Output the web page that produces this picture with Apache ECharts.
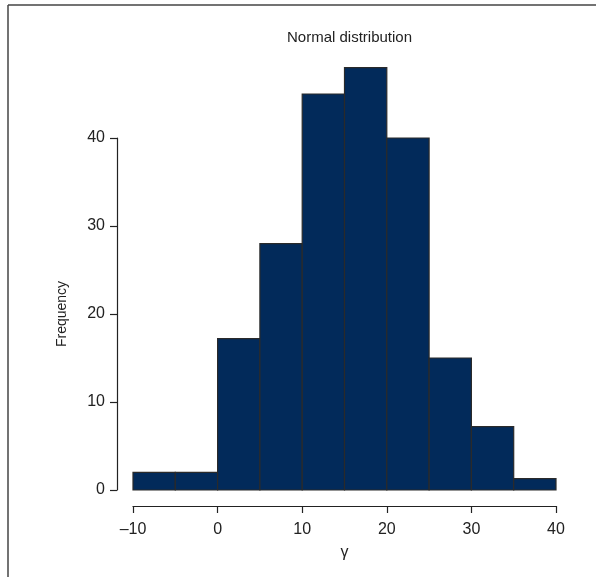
<!DOCTYPE html>
<html>
<head>
<meta charset="utf-8">
<script src="https://cdn.jsdelivr.net/npm/echarts@6/dist/echarts.min.js"></script>
<style>
html,body{margin:0;padding:0;background:#fff;}
#chart{width:596px;height:577px;}
</style>
</head>
<body>
<div id="chart"></div>
<script>
// Data
var binStart = [-10, -5, 0, 5, 10, 15, 20, 25, 30, 35];
var binEnd   = [-5, 0, 5, 10, 15, 20, 25, 30, 35, 40];
var frequency = [2, 2, 17.2, 28, 45, 48, 40, 15, 7.2, 1.3];
var xTicks = [-10, 0, 10, 20, 30, 40];
var yTicks = [0, 10, 20, 30, 40];

var FONT = "'Liberation Sans Narrow', 'Arial Narrow', 'Liberation Sans', sans-serif";

var chart = echarts.init(document.getElementById('chart'), null, {renderer: 'canvas'});
var data = binStart.map(function (s, i) { return [s, binEnd[i], frequency[i]]; });

chart.setOption({
  animation: false,
  backgroundColor: '#ffffff',
  title: {
    text: 'Normal distribution',
    left: 344.5,
    textAlign: 'center',
    top: 25,
    textStyle: {fontFamily: FONT, fontSize: 15, fontWeight: 'normal', color: '#222'}
  },
  grid: {left: 133, right: 40, top: 138, bottom: 87},
  xAxis: {
    type: 'value', min: -10, max: 40, interval: 10, offset: 16,
    name: 'γ', nameLocation: 'middle', nameGap: 39,
    nameTextStyle: {fontFamily: FONT, fontSize: 16, color: '#222'},
    axisLine: {show: true, onZero: false, lineStyle: {color: '#222', width: 1.2}},
    axisTick: {show: true, length: 7, lineStyle: {color: '#222', width: 1.2}},
    axisLabel: {margin: 16, fontFamily: FONT, fontSize: 16, color: '#222',
      formatter: function (v) { return v < 0 ? '\u2013' + Math.abs(v) : String(v); }},
    splitLine: {show: false}
  },
  yAxis: {
    type: 'value', min: 0, max: 40, interval: 10, offset: 16,
    name: 'Frequency', nameLocation: 'middle', nameGap: 48, nameRotate: 90,
    nameTextStyle: {fontFamily: FONT, fontSize: 14, color: '#222'},
    axisLine: {show: true, onZero: false, lineStyle: {color: '#222', width: 1.2}},
    axisTick: {show: true, length: 7, lineStyle: {color: '#222', width: 1.2}},
    axisLabel: {margin: 12, fontFamily: FONT, fontSize: 16, color: '#222'},
    splitLine: {show: false}
  },
  series: [{
    type: 'custom',
    data: data,
    encode: {x: [0, 1], y: 2},
    renderItem: function (params, api) {
      var p0 = api.coord([api.value(0), api.value(2)]);
      var p1 = api.coord([api.value(1), 0]);
      return {
        type: 'rect',
        shape: {x: p0[0], y: p0[1], width: p1[0] - p0[0], height: p1[1] - p0[1]},
        style: {fill: '#022a5a', stroke: '#2a2a2a', lineWidth: 1.2}
      };
    }
  }],
  graphic: [
    {type: 'line', shape: {x1: 8, y1: 5, x2: 596, y2: 5}, style: {stroke: '#444', lineWidth: 1.5}},
    {type: 'line', shape: {x1: 8, y1: 5, x2: 8, y2: 577}, style: {stroke: '#444', lineWidth: 1.5}}
  ]
});
</script>
</body>
</html>
